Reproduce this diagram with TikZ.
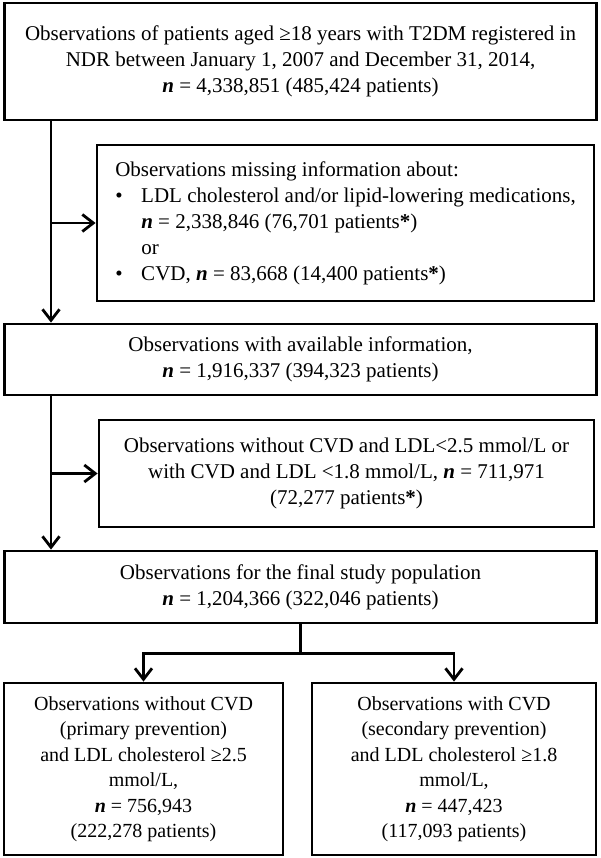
\documentclass[tikz,border=0pt]{standalone}
\usepackage{fontspec}
\setmainfont{Liberation Serif}
\usetikzlibrary{positioning, arrows.meta}

\newcommand{\nn}{\textbf{\textit{n}}}

\begin{document}
\begin{tikzpicture}[x=1pt, y=-1pt,
    font=\fontsize{21pt}{26pt}\selectfont,
    box/.style={draw, line width=2.8pt, align=center, inner sep=0pt},
    group/.style={box, font=\fontsize{20pt}{25.5pt}\selectfont},
    flow/.style={line width=2.8pt},
    arr/.style={flow, -{Straight Barb[length=11pt, width=17pt, line width=2.8pt]}}]

  \useasboundingbox (0,0) rectangle (600,858);

  % Main column (full-width boxes).
  \node[box, minimum width=592pt, minimum height=117pt] (start) at (300.5,61.5)
    {Observations of patients aged ≥18 years with T2DM registered in\\
     NDR between January 1, 2007 and December 31, 2014,\\
     \nn{} = 4,338,851 (485,424 patients)};
  \node[box, minimum width=592pt, minimum height=71pt] (avail) at (300.5,359.5)
    {Observations with available information,\\
     \nn{} = 1,916,337 (394,323 patients)};
  \node[box, minimum width=592pt, minimum height=72pt] (final) at (300.5,587)
    {Observations for the final study population\\
     \nn{} = 1,204,366 (322,046 patients)};

  % Exclusion boxes on the right.
  \node[box, minimum width=497pt, minimum height=156pt, align=left] (missing) at (345.5,223)
    {Observations missing information about:\\
     \makebox[26pt][l]{\textbullet}LDL cholesterol and/or lipid-lowering medications,\\
     \hspace*{26pt}\nn{} = 2,338,846 (76,701 patients\textbf{*})\\
     \hspace*{26pt}or\\
     \makebox[26pt][l]{\textbullet}CVD, \nn{} = 83,668 (14,400 patients\textbf{*})};
  \node[box, minimum width=495pt, minimum height=107pt] (lowldl) at (346.5,473.5)
    {Observations without CVD and LDL<2.5 mmol/L or\\
     with CVD and LDL <1.8 mmol/L, \nn{} = 711,971\\
     (72,277 patients\textbf{*})};

  % The two prevention groups.
  \node[group, minimum width=279pt, minimum height=172pt] (primary) at (143.5,769)
    {Observations without CVD\\ (primary prevention)\\ and LDL cholesterol ≥2.5\\
     mmol/L,\\ \nn{} = 756,943\\ (222,278 patients)};
  \node[group, minimum width=284pt, minimum height=172pt] (secondary) at (454,769)
    {Observations with CVD\\ (secondary prevention)\\ and LDL cholesterol ≥1.8\\
     mmol/L,\\ \nn{} = 447,423\\ (117,093 patients)};

  % Spine on the left with the exclusion branches.
  \coordinate (spine) at (51,0);
  \draw[arr] (spine |- start.south) -- (spine |- avail.north);
  \draw[arr] (spine |- missing.west) -- (missing.west);
  \draw[arr] (spine |- avail.south) -- (spine |- final.north);
  \draw[arr] (spine |- lowldl.west) -- (lowldl.west);

  % Split into the two groups.
  \coordinate[below=29pt of final.south] (split);
  \draw[flow] (final.south) -- (split);
  \draw[arr] (split) -| (primary.north);
  \draw[arr] (split) -| (secondary.north);
\end{tikzpicture}
\end{document}
